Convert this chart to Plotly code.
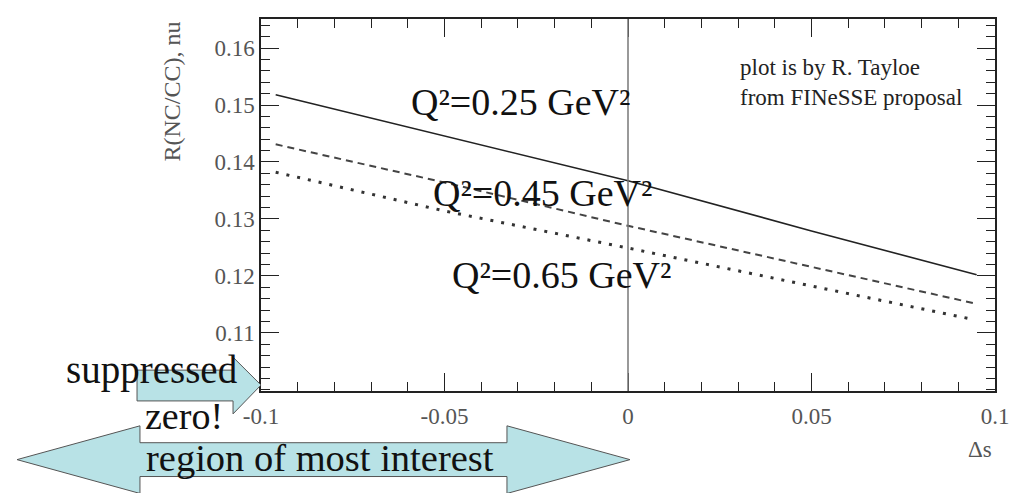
import plotly.graph_objects as go

# curves
delta_s = [-0.096, -0.05, 0.0, 0.05, 0.095]
r_q025 = [0.1518, 0.1446, 0.1367, 0.1279, 0.1202]
r_q045 = [0.1431, 0.1364, 0.1288, 0.1216, 0.1151]
r_q065 = [0.1382, 0.1314, 0.1249, 0.1183, 0.1125]

x_ticks = [-0.1, -0.05, 0, 0.05, 0.1]
x_labels = ["-0.1", "-0.05", "0", "0.05", "0.1"]
y_ticks = [0.11, 0.12, 0.13, 0.14, 0.15, 0.16]
y_labels = ["0.11", "0.12", "0.13", "0.14", "0.15", "0.16"]

# the page body has an 8px margin, so the figure is shrunk and shifted by that
OFF = 8
W, H = 1019 - OFF, 493 - OFF
L, T, PW, PH = 261 - OFF, 17 - OFF, 734, 374
SERIF = "Liberation Serif"
CYAN = "#b8e2e6"


def px(x, y):
    # reference-picture pixel -> paper coords
    return (x - OFF - L) / PW, (T + PH - (y - OFF)) / PH


def path(points):
    pts = [px(x, y) for x, y in points]
    return "M " + " L ".join(f"{a:.4f},{b:.4f}" for a, b in pts) + " Z"


fig = go.Figure()
fig.add_trace(go.Scatter(x=delta_s, y=r_q025, mode="lines",
                         line=dict(color="#222", width=1.6)))
fig.add_trace(go.Scatter(x=delta_s, y=r_q045, mode="lines",
                         line=dict(color="#444", width=2, dash="7px,5px")))
fig.add_trace(go.Scatter(x=delta_s[:-1] + [0.093], y=r_q065, mode="lines",
                         line=dict(color="#333", width=3, dash="3px,8px")))

axis_common = dict(
    showgrid=False, zeroline=False, showline=True, linecolor="#222", linewidth=1.5,
    mirror="allticks", ticks="inside", ticklen=18, tickcolor="#222", tickwidth=1.2,
    tickmode="array", tickfont=dict(family=SERIF, size=23, color="#555"),
)

fig.update_xaxes(range=[-0.1, 0.1], tickvals=x_ticks, ticktext=x_labels,
                 ticklabelstandoff=4,
                 minor=dict(dtick=0.01, tick0=0, ticks="inside", ticklen=9, tickcolor="#222"),
                 **axis_common)
fig.update_yaxes(range=[0.0998, 0.1651], tickvals=y_ticks, ticktext=y_labels,
                 minor=dict(dtick=0.002, tick0=0, ticks="inside", ticklen=9, tickcolor="#222"),
                 **axis_common)

fig.add_shape(type="line", x0=0, x1=0, y0=0, y1=1, xref="x", yref="paper",
              line=dict(color="#777", width=1.5))

# decorative arrows
fig.add_shape(type="path", xref="paper", yref="paper", layer="above",
              path=path([(17, 460), (140, 426), (140, 443), (507, 443), (507, 426),
                         (630, 460), (507, 494), (507, 477), (140, 477), (140, 494)]),
              fillcolor=CYAN, line=dict(color="#555", width=1))
fig.add_shape(type="path", xref="paper", yref="paper", layer="above",
              path=path([(137, 370), (233, 370), (233, 357), (261, 385),
                         (233, 414), (233, 401), (137, 401)]),
              fillcolor=CYAN, line=dict(color="#555", width=1))

notes = [
    ("Q²=0.25 GeV²", -0.0294, 0.1506),
    ("Q²=0.45 GeV²", -0.0234, 0.1345),
    ("Q²=0.65 GeV²", -0.0180, 0.1202),
]
for text, x, y in notes:
    fig.add_annotation(x=x, y=y, xref="x", yref="y", text=text, showarrow=False,
                       font=dict(family=SERIF, size=38, color="#111"))

page_notes = [
    ("plot is by R. Tayloe<br>from FINeSSE proposal", 738, 81, 23, "#222", "left", 0),
    ("suppressed", 152, 370, 39, "#111", "center", 0),
    ("zero!", 184, 416, 38, "#111", "center", 0),
    ("region of most interest", 320, 458, 38.5, "#111", "center", 0),
    ("R(NC/CC), nu", 172, 90, 24, "#555", "center", -90),
    ("Δs", 980, 450, 23, "#555", "center", 0),
]
for text, x, y, size, color, anchor, angle in page_notes:
    ax, ay = px(x, y)
    fig.add_annotation(x=ax, y=ay, xref="paper", yref="paper", text=text,
                       showarrow=False, xanchor=anchor, yanchor="middle", align="left",
                       textangle=angle, font=dict(family=SERIF, size=size, color=color))

fig.update_layout(
    width=W, height=H, showlegend=False,
    margin=dict(l=L, r=W - L - PW, t=T, b=H - T - PH),
    paper_bgcolor="white", plot_bgcolor="white",
)

fig.write_html("out.html")
